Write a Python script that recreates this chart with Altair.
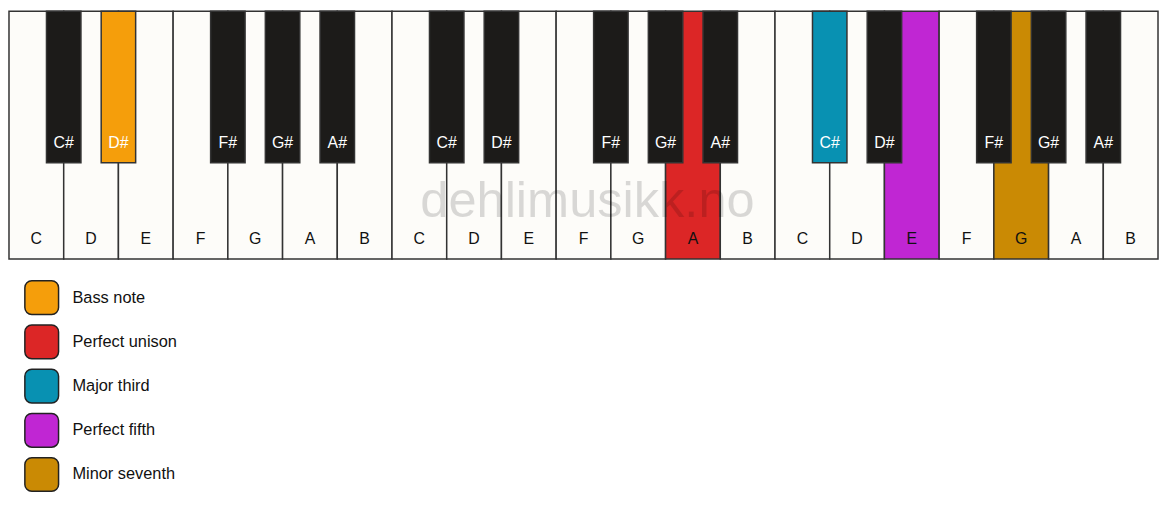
import altair as alt
import pandas as pd

# ---- data ----
WHITE_NOTES = ["C", "D", "E", "F", "G", "A", "B"]
BLACK_NOTES = ["C#", "D#", "F#", "G#", "A#"]
BLACK_BOUNDARY = [1, 2, 4, 5, 6]          # white-key boundary each black key sits on
OCTAVES = 3

# highlighted keys: (note, octave, interval)
HL_NOTES = ["D#", "A", "C#", "E", "G"]
HL_OCTAVES = [0, 1, 2, 2, 2]
INTERVALS = ["Bass note", "Perfect unison", "Major third", "Perfect fifth", "Minor seventh"]
INTERVAL_COLORS = ["#F59E0B", "#DC2626", "#0891B2", "#C026D3", "#CA8A04"]

WATERMARK = "dehlimusikk.no"

# ---- layout (reference pixel units) ----
W = 1159
H = 498
N_WHITE = 7 * OCTAVES
KW = W / N_WHITE
BW = KW * 0.63
KEY_H = 250
BLACK_H = 153
WHITE_FILL = "#FDFCF9"
BLACK_FILL = "#1C1B19"
EDGE = "#333333"

hl = {(n, o): c for n, o, c in zip(HL_NOTES, HL_OCTAVES, INTERVAL_COLORS)}

white_rows, black_rows = [], []
for o in range(OCTAVES):
    for i, n in enumerate(WHITE_NOTES):
        idx = 7 * o + i
        white_rows.append(dict(note=n, x=idx * KW, x2=(idx + 1) * KW, xc=(idx + 0.5) * KW,
                               y=0, y2=KEY_H, ly=230, fill=hl.get((n, o), WHITE_FILL)))
    for n, b in zip(BLACK_NOTES, BLACK_BOUNDARY):
        c = (7 * o + b) * KW
        black_rows.append(dict(note=n, x=c - BW / 2, x2=c + BW / 2, xc=c,
                               y=0, y2=BLACK_H, ly=133, fill=hl.get((n, o), BLACK_FILL)))
white = pd.DataFrame(white_rows)
black = pd.DataFrame(black_rows)

legend = pd.DataFrame(dict(
    label=INTERVALS, fill=INTERVAL_COLORS,
    x=[16] * 5, x2=[50] * 5, tx=[64] * 5,
    yc=[289 + 44.6 * i for i in range(5)],
))
legend["y"] = legend["yc"] - 17
legend["y2"] = legend["yc"] + 17

wm = pd.DataFrame(dict(text=[WATERMARK], x=[W / 2 + 4], y=[193]))

xs = alt.Scale(domain=[0, W], nice=False, zero=False)
ys = alt.Scale(domain=[0, H], reverse=True, nice=False, zero=False)
FONT = "Liberation Sans"


def rects(df, stroke, sw, radius=0):
    return alt.Chart(df).mark_rect(stroke=stroke, strokeWidth=sw, cornerRadius=radius).encode(
        x=alt.X("x:Q", scale=xs, axis=None), x2="x2:Q",
        y=alt.Y("y:Q", scale=ys, axis=None), y2="y2:Q",
        fill=alt.Fill("fill:N", scale=None),
    )


def labels(df, color, field="note", xfield="xc", yfield="ly", align="center", size=16):
    return alt.Chart(df).mark_text(font=FONT, fontSize=size, color=color, align=align,
                                   baseline="middle").encode(
        x=alt.X(f"{xfield}:Q", scale=xs, axis=None),
        y=alt.Y(f"{yfield}:Q", scale=ys, axis=None),
        text=f"{field}:N",
    )


chart = alt.layer(
    rects(white, EDGE, 1.5),
    labels(white, "#111111"),
    rects(black, EDGE, 1.5),
    labels(black, "#FFFFFF"),
    alt.Chart(wm).mark_text(font=FONT, fontSize=51, color="#000000", opacity=0.14,
                            align="center", baseline="middle").encode(
        x=alt.X("x:Q", scale=xs, axis=None), y=alt.Y("y:Q", scale=ys, axis=None), text="text:N"),
    rects(legend, "#222222", 1.5, radius=7),
    labels(legend, "#111111", field="label", xfield="tx", yfield="yc", align="left", size=16.5),
).properties(width=W, height=H, padding=0, background="#FFFFFF").configure_view(stroke=None)

chart.save("out.html", embed_options={"renderer": "svg", "actions": False})
